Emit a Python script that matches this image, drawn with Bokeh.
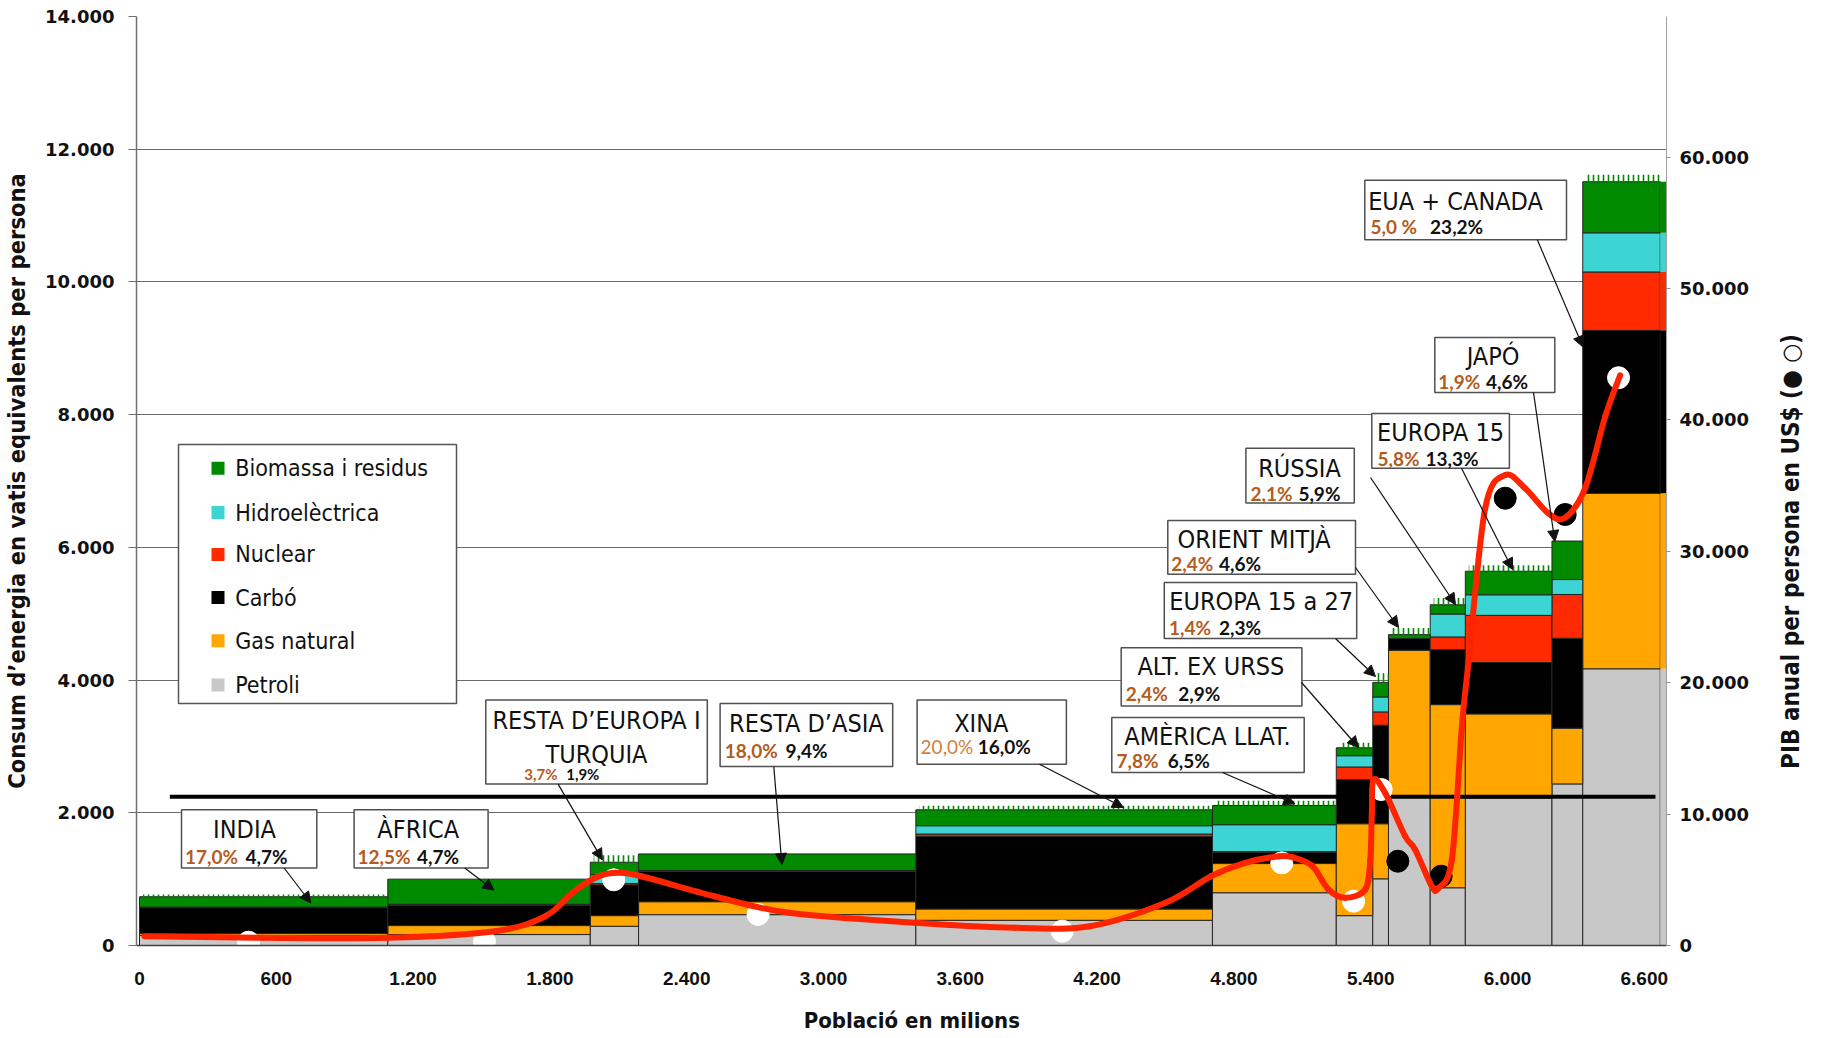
import numpy as np
from bokeh.plotting import figure
from bokeh.models import Range1d, LinearAxis, FixedTicker, Arrow, NormalHead, ColumnDataSource
from bokeh.core.properties import value
from bokeh.embed import file_html
from bokeh.resources import INLINE

# ---------------- data ----------------
regions = ["INDIA", "ÀFRICA", "RESTA D’EUROPA I TURQUIA", "RESTA D’ASIA", "XINA",
           "AMÈRICA LLAT.", "ALT. EX URSS", "EUROPA 15 a 27", "ORIENT MITJÀ",
           "RÚSSIA", "EUROPA 15", "JAPÓ", "EUA + CANADA"]
population = [1089, 888, 212, 1216, 1301, 543, 160, 69, 183, 154, 380, 135, 340]   # milions

# energy per person (W), by source
petroli  = [150, 165, 290, 465, 380, 795, 450, 1005, 2230, 870, 2225, 2435, 4170]
gas      = [30, 135, 160, 195, 170, 440, 1385, 830, 2220, 2760, 1265, 840, 2645]
carbo    = [390, 305, 465, 455, 1095, 165, 665, 1485, 175, 830, 775, 1355, 2455]
nuclear  = [5, 5, 20, 5, 35, 15, 190, 200, 0, 190, 710, 660, 880]
hidro    = [5, 10, 130, 10, 125, 405, 170, 225, 0, 345, 310, 225, 590]
biomassa = [155, 380, 190, 250, 240, 290, 120, 220, 60, 140, 355, 580, 770]
altres   = [35, 0, 105, 0, 60, 70, 75, 140, 100, 100, 90, 0, 105]   # hatched top strip

pop_share    = ["17,0%", "12,5%", "3,7%", "18,0%", "20,0%", "7,8%", "2,4%", "1,4%",
                "2,4%", "2,1%", "5,8%", "1,9%", "5,0 %"]
energy_share = ["4,7%", "4,7%", "1,9%", "9,4%", "16,0%", "6,5%", "2,9%", "2,3%",
                "4,6%", "5,9%", "13,3%", "4,6%", "23,2%"]

# GDP per person (US$) markers
gdp_pop  = [478, 1513, 2080, 2713, 4047, 5010, 5325, 5446, 5519, 5709, 5990, 6253, 6487]
gdp      = [250, 300, 5000, 2360, 1090, 6290, 3370, 11870, 6415, 5275, 34040, 32800, 43210]
gdp_kind = ["open"] * 8 + ["filled"] * 4 + ["open"]

# red GDP curve
curve_pop = [22, 540, 1090, 1560, 1780, 1900, 2000, 2086, 2200, 2520, 2850, 3400, 3840,
             4170, 4500, 4700, 4850, 5000, 5060, 5145, 5215, 5288, 5376, 5398, 5405,
             5412, 5463, 5551, 5595, 5668, 5697, 5756, 5800, 5829, 5902, 5989, 6076,
             6180, 6253, 6341, 6429, 6494]
curve_gdp = [710, 590, 590, 1090, 2230, 4030, 5150, 5530, 5270, 3750, 2490, 1730, 1350,
             1470, 3250, 5270, 6290, 6800, 6700, 6035, 4260, 3630, 4260, 6500, 10000,
             12600, 11620, 8320, 7300, 4510, 4360, 6545, 16690, 21550, 33260, 35800, 34820,
             32880, 32560, 34820, 40280, 43400]

world_avg = 2240
world_avg_from, world_avg_to = 133, 6649

x_ticks = [0, 600, 1200, 1800, 2400, 3000, 3600, 4200, 4800, 5400, 6000, 6600]
x_tick_labels = ["0", "600", "1.200", "1.800", "2.400", "3.000", "3.600", "4.200",
                 "4.800", "5.400", "6.000", "6.600"]
y_ticks = [0, 2000, 4000, 6000, 8000, 10000, 12000, 14000]
y_tick_labels = ["0", "2.000", "4.000", "6.000", "8.000", "10.000", "12.000", "14.000"]
gdp_ticks = [0, 10000, 20000, 30000, 40000, 50000, 60000]
gdp_tick_labels = ["0", "10.000", "20.000", "30.000", "40.000", "50.000", "60.000"]

source_names = ["Biomassa i residus", "Hidroelèctrica", "Nuclear", "Carbó", "Gas natural", "Petroli"]

# ---------------- styling / layout ----------------
C_GREEN, C_CYAN, C_RED, C_BLACK, C_ORANGE, C_GREY = "#008a00", "#3dd4d4", "#ff2a00", "#000000", "#ffa600", "#c8c8c8"
BROWN = "#b35c1e"
NARROW = "DejaVu Sans Condensed"
BOLDFACE = "DejaVu Sans"
PCTFONT = "Lato"
NB = "\u00a0"

# pixel helpers (page pixels -> data units)
FX0, FY0 = 141.0, 946.0
PX_POP = 0.228
PX_VAL = 929.0 / 14000.0
GDP_RATIO = 5.05
def dx(X): return (X - FX0) / PX_POP
def dy(Y): return (FY0 - Y) / PX_VAL

p = figure(frame_width=1530, frame_height=929,
           x_range=Range1d(dx(138), dx(1668)), y_range=Range1d(0, 14000),
           output_backend="svg", toolbar_location=None,
           min_border_left=131, min_border_right=151, min_border_top=16, min_border_bottom=90,
           outline_line_color=None, background_fill_color="white", border_fill_color="white")
p.extra_y_ranges = {"gdp": Range1d(0, 14000 * GDP_RATIO)}

# grid
p.xgrid.grid_line_color = None
p.ygrid.ticker = FixedTicker(ticks=y_ticks)
p.ygrid.grid_line_color = "#6a6a6a"
p.ygrid.grid_line_width = 1.2

# axes
xa = p.xaxis[0]
xa.ticker = FixedTicker(ticks=x_ticks)
xa.major_label_overrides = {t: l for t, l in zip(x_ticks, x_tick_labels)}
xa.major_tick_out = 0
xa.major_tick_in = 0
xa.minor_tick_line_color = None
xa.axis_line_color = "#404040"
xa.axis_line_width = 1.5
xa.major_label_text_font = "Liberation Sans"
xa.major_label_text_font_style = "bold"
xa.major_label_text_font_size = "19px"
xa.major_label_text_color = "#111111"
xa.major_label_standoff = 26
xa.axis_label = NB * 3 + "Població en milions"
xa.axis_label_text_font = NARROW
xa.axis_label_text_font_style = "bold"
xa.axis_label_text_font_size = "22px"
xa.axis_label_text_color = "#111111"
xa.axis_label_standoff = 20

ya = p.yaxis[0]
ya.ticker = FixedTicker(ticks=y_ticks)
ya.major_label_overrides = {t: l for t, l in zip(y_ticks, y_tick_labels)}
ya.major_tick_out = 8
ya.major_tick_in = 0
ya.major_tick_line_color = "#707070"
ya.minor_tick_line_color = None
ya.axis_line_color = "#707070"
ya.axis_line_width = 1.5
ya.major_label_text_font = BOLDFACE
ya.major_label_text_font_style = "bold"
ya.major_label_text_font_size = "18px"
ya.major_label_text_color = "#111111"
ya.major_label_standoff = 14
ya.axis_label = "Consum d’energia en vatis equivalents per persona"
ya.axis_label_text_font = NARROW
ya.axis_label_text_font_style = "bold"
ya.axis_label_text_font_size = "23.5px"
ya.axis_label_text_color = "#111111"
ya.axis_label_standoff = 11

# right axis: ticks and tick labels
ra = LinearAxis(y_range_name="gdp", ticker=FixedTicker(ticks=gdp_ticks))
ra.major_label_overrides = {t: l for t, l in zip(gdp_ticks, gdp_tick_labels)}
ra.major_tick_out = 4
ra.major_tick_in = 0
ra.major_tick_line_color = "#909090"
ra.minor_tick_line_color = None
ra.axis_line_color = "#a0a0a0"
ra.major_label_text_font = BOLDFACE
ra.major_label_text_font_style = "bold"
ra.major_label_text_font_size = "18px"
ra.major_label_text_color = "#111111"
ra.major_label_standoff = 9
p.add_layout(ra, "right")

# right title: a single rotated tick label on a bare outer axis, starting at TITLE_START_GDP
TITLE_START_GDP = 13440
right_title = "PIB anual per persona en US$ (● ○)"
rt = LinearAxis(y_range_name="gdp", ticker=FixedTicker(ticks=[TITLE_START_GDP]))
rt.major_label_overrides = {TITLE_START_GDP: right_title}
rt.major_label_orientation = float(np.pi / 2)
rt.axis_line_color = None
rt.major_tick_line_color = None
rt.minor_tick_line_color = None
rt.major_tick_out = 0
rt.major_tick_in = 0
rt.major_label_text_font = NARROW
rt.major_label_text_font_style = "bold"
rt.major_label_text_font_size = "24px"
rt.major_label_text_color = "#111111"
rt.major_label_standoff = 40
p.add_layout(rt, "right")

# ---------------- stacked variable-width bars ----------------
pop_end = np.cumsum(population).astype(float)
pop_start = pop_end - np.array(population, float)
layers = [(petroli, C_GREY), (gas, C_ORANGE), (carbo, C_BLACK),
          (nuclear, C_RED), (hidro, C_CYAN), (biomassa, C_GREEN)]
base = np.zeros(len(regions))
for vals, col in layers:
    v = np.array(vals, float)
    m = v > 0
    p.quad(left=pop_start[m], right=pop_end[m], bottom=base[m], top=(base + v)[m],
           fill_color=col, line_color="#262626", line_width=1)
    # thin echo strip to the right of the last bar
    p.quad(left=[pop_end[-1]], right=[dx(1668)], bottom=[base[-1]], top=[base[-1] + v[-1]],
           fill_color=col, line_color=None)
    base = base + v
alt = np.array(altres, float)
m = alt > 0
p.quad(left=pop_start[m] + 15, right=pop_end[m], bottom=base[m], top=(base + alt)[m],
       fill_alpha=0, line_color=None, hatch_pattern="|", hatch_color=C_GREEN,
       hatch_scale=5, hatch_weight=1.6)

# world average line
p.line(x=[world_avg_from, world_avg_to], y=[world_avg, world_avg], line_color="black", line_width=4)

# GDP markers
fill = ["white" if k == "open" else "black" for k in gdp_kind]
p.scatter(x=gdp_pop, y=gdp, y_range_name="gdp", marker="circle", size=22,
          fill_color=fill, line_color=fill)

# GDP smoothed curve (Excel-like smoothing through the read points)
P_x = np.concatenate([[curve_pop[0]], curve_pop, [curve_pop[-1]]]).astype(float)
P_y = np.concatenate([[curve_gdp[0]], curve_gdp, [curve_gdp[-1]]]).astype(float)
n = len(curve_pop)
x0, y0 = P_x[1:n], P_y[1:n]
x1, y1 = P_x[2:n + 1], P_y[2:n + 1]
c0x = x0 + (x1 - P_x[0:n - 1]) / 6.0
c0y = y0 + (y1 - P_y[0:n - 1]) / 6.0
c1x = x1 - (P_x[3:n + 2] - x0) / 6.0
c1y = y1 - (P_y[3:n + 2] - y0) / 6.0
p.bezier(x0=x0, y0=y0, x1=x1, y1=y1, cx0=c0x, cy0=c0y, cx1=c1x, cy1=c1y,
         y_range_name="gdp", line_color="#ff2400", line_width=6, line_cap="round")

# ---------------- legend (drawn) ----------------
p.quad(left=[dx(180)], right=[dx(458)], bottom=[dy(704)], top=[dy(445)],
       fill_color="white", line_color="#555555", line_width=1.5)
leg_cols = [C_GREEN, C_CYAN, C_RED, C_BLACK, C_ORANGE, C_GREY]
leg_Y = [468.7, 513.0, 554.9, 598.0, 641.2, 685.5]
p.scatter(x=[dx(219.5)] * 6, y=[dy(Y) for Y in leg_Y], marker="square", size=13,
          fill_color=leg_cols, line_color=None)
p.text(x=[dx(236.7)] * 6, y=[dy(Y) for Y in leg_Y], text=source_names,
       text_font=value(NARROW), text_font_size="23px", text_baseline="middle",
       text_align="left", text_color="#111111")

# ---------------- region callouts ----------------
boxes = [(183.0, 318.3, 810.2, 868.5), (355.6, 489.6, 810.2, 868.5), (487.3, 708.8, 700.6, 784.6),
         (721.6, 894.2, 704.1, 767.1), (918.6, 1067.9, 700.6, 764.8), (1113.3, 1305.7, 718.1, 772.9),
         (1122.7, 1303.4, 648.2, 706.5), (1165.8, 1358.2, 582.9, 638.9), (1169.3, 1357.0, 521.1, 574.7),
         (1247.4, 1355.8, 448.8, 503.6), (1373.3, 1510.9, 413.9, 468.7), (1436.3, 1556.3, 338.1, 392.9),
         (1366.3, 1568.0, 180.7, 240.2)]
p.quad(left=[dx(b[0]) for b in boxes], right=[dx(b[1]) for b in boxes],
       bottom=[dy(b[3]) for b in boxes], top=[dy(b[2]) for b in boxes],
       fill_color="white", line_color="#505050", line_width=1.5)

title_lines = ["INDIA", "ÀFRICA", "RESTA D’EUROPA I", "TURQUIA", "RESTA D’ASIA", "XINA",
               "AMÈRICA LLAT.", "ALT. EX URSS", "EUROPA 15 a 27", "ORIENT MITJÀ", "RÚSSIA",
               "EUROPA 15", "JAPÓ", "EUA + CANADA"]
title_pos = [(246, 830), (419.7, 830), (598, 720.5), (598, 755.4), (807.9, 724), (982.8, 724),
             (1209, 736.8), (1212.4, 666.8), (1262.6, 601.5), (1255.6, 539.8), (1301, 468.7),
             (1442.1, 432.5), (1494.6, 356.7), (1457, 201.7)]
p.text(x=[dx(a) for a, b in title_pos], y=[dy(b) for a, b in title_pos], text=title_lines,
       text_font=value(NARROW), text_font_size="25px", text_align="center",
       text_baseline="middle", text_color="#111111")

pct_pos = [(186.5, 247, 857), (359, 418.5, 857), (525.8, 567.7, 774), (726.3, 787, 750.8),
           (922.1, 979.3, 747.3), (1118, 1169.3, 761.3), (1127.3, 1179.8, 693.7),
           (1170.5, 1220.6, 628.4), (1172.8, 1220.6, 564.3), (1252, 1299.9, 494.3),
           (1379.1, 1427, 459.3), (1439.8, 1487.6, 382.4), (1372, 1431.6, 227.3)]
pct_size = ["19px"] * 13
pct_size[2] = "15px"
for i in range(13):
    a, b, Y = pct_pos[i]
    style = "normal" if i == 4 else "bold"
    col = "#cf8040" if i == 4 else BROWN
    p.text(x=[dx(a)], y=[dy(Y)], text=[pop_share[i]], text_font=value(PCTFONT),
           text_font_size=pct_size[i], text_font_style=style, text_color=col,
           text_baseline="middle", text_align="left")
    p.text(x=[dx(b)], y=[dy(Y)], text=[energy_share[i]], text_font=value(PCTFONT),
           text_font_size=pct_size[i], text_font_style="bold", text_color="#111111",
           text_baseline="middle", text_align="left")

arrows = [((285.6, 868.5), (312.4, 903.5)), ((466.3, 868.5), (495.5, 890.7)),
          ((559.6, 784.6), (603.9, 860.4)), ((775.3, 767.1), (783.4, 865.0)),
          ((1041.0, 764.8), (1125.0, 808.0)), ((1224.0, 773.0), (1296.4, 804.4)),
          ((1303.0, 683.0), (1360.0, 748.0)), ((1337.0, 639.0), (1377.0, 677.0)),
          ((1357.0, 568.0), (1400.0, 628.0)), ((1372.0, 478.0), (1457.0, 605.0)),
          ((1463.0, 468.7), (1514.0, 570.0)), ((1535.0, 392.9), (1556.3, 542.0)),
          ((1538.8, 240.2), (1584.5, 347.5))]
asrc = ColumnDataSource(dict(x0=[dx(a[0][0]) for a in arrows], y0=[dy(a[0][1]) for a in arrows],
                             x1=[dx(a[1][0]) for a in arrows], y1=[dy(a[1][1]) for a in arrows]))
p.add_layout(Arrow(x_start="x0", y_start="y0", x_end="x1", y_end="y1", source=asrc,
                   line_color="#111111", line_width=1.2,
                   end=NormalHead(size=11, fill_color="#111111", line_color="#111111")))

open("out.html", "w").write(file_html(p, INLINE))
